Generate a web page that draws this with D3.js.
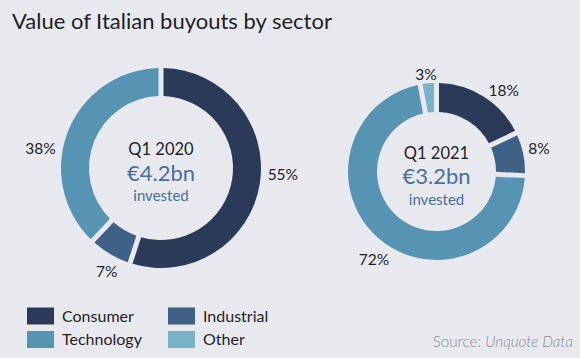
<!DOCTYPE html>
<html><head><meta charset="utf-8">
<script src="https://cdn.jsdelivr.net/npm/d3@7"></script>
<style>
html,body{margin:0;padding:0;background:#e8e9ee;}
svg{display:block;font-family:Lato,"Open Sans",sans-serif;}
</style></head>
<body><svg id="c" width="580" height="358"></svg>
<script>
const categories = ["Consumer","Industrial","Technology","Other"];
const colors = ["#2b3a58","#3f6186","#5794b4","#77b2c7"];
const values2020 = [55, 7, 38, 0];
const values2021 = [18, 8, 72, 3];
const periods = ["Q1 2020","Q1 2021"];
const totals = ["€4.2bn","€3.2bn"];
const title = "Value of Italian buyouts by sector";
const source = "Unquote Data";

const svg = d3.select("#c");
svg.append("rect").attr("width",580).attr("height",358).attr("fill","#e8e9ee");
svg.append("text").attr("x",12).attr("y",29).attr("font-size",22).attr("fill","#1f1f1f").text(title);

const color = d3.scaleOrdinal().domain(categories).range(colors);

const charts = [
  {vals: values2020, cx:161, cy:168, ro:100, ri:72, nudge:[-6,-3,-12.6,0], lr:[122,117,122,0]},
  {vals: values2021, cx:436.5, cy:171.5, ro:88.5, ri:59.5, nudge:[7.7,-0.8,-5.6,-0.8], lr:[105,105,108,98]}
];

charts.forEach((c,ci)=>{
  const data = categories.map((k,i)=>({cat:k, v:c.vals[i], i}));
  const pie = d3.pie().sort(null).value(d=>d.v);
  const arcs = pie(data).filter(d=>d.data.v>0);
  const arc = d3.arc().innerRadius(c.ri).outerRadius(c.ro).padAngle(5/c.ro).padRadius(c.ro);
  const g = svg.append("g").attr("transform",`translate(${c.cx},${c.cy})`);
  g.selectAll("path").data(arcs).join("path").attr("d",arc).attr("fill",d=>color(d.data.cat));
  g.selectAll("text.lab").data(arcs).join("text").attr("class","lab")
    .attr("transform",d=>{
      const a = (d.startAngle+d.endAngle)/2 + c.nudge[d.data.i]*Math.PI/180;
      const r = c.lr[d.data.i];
      return `translate(${r*Math.sin(a)},${-r*Math.cos(a)})`;
    })
    .attr("text-anchor","middle").attr("dy","0.35em").attr("font-size",15.5).attr("fill","#1f1f1f")
    .text(d=>d.data.v+"%");
  g.append("text").attr("text-anchor","middle").attr("y",-13).attr("font-size",16.5).attr("fill","#1f1f1f").text(periods[ci]);
  g.append("text").attr("text-anchor","middle").attr("y",12.5).attr("font-size",22).attr("fill","#4a6f98").text(totals[ci]);
  g.append("text").attr("text-anchor","middle").attr("y",33).attr("font-size",15).attr("fill","#4a6f98").text("invested");
});

// legend
const leg = svg.append("g");
categories.forEach((k,i)=>{
  const col = i%2, row = Math.floor(i/2);
  const x = 27 + col*141, y = 307.5 + row*23.5;
  leg.append("rect").attr("x",x).attr("y",y).attr("width",27).attr("height",17).attr("fill",color(k));
  leg.append("text").attr("x",x+35).attr("y",y+8.5).attr("dy","0.35em").attr("font-size",16).attr("fill","#1f1f1f").text(k);
});
const st = svg.append("text").attr("x",573).attr("y",347).attr("text-anchor","end").attr("font-size",15.2).attr("fill","#8a8a8e").attr("font-weight",300);
st.append("tspan").text("Source: ");
st.append("tspan").attr("font-style","italic").text(source);
</script></body></html>
